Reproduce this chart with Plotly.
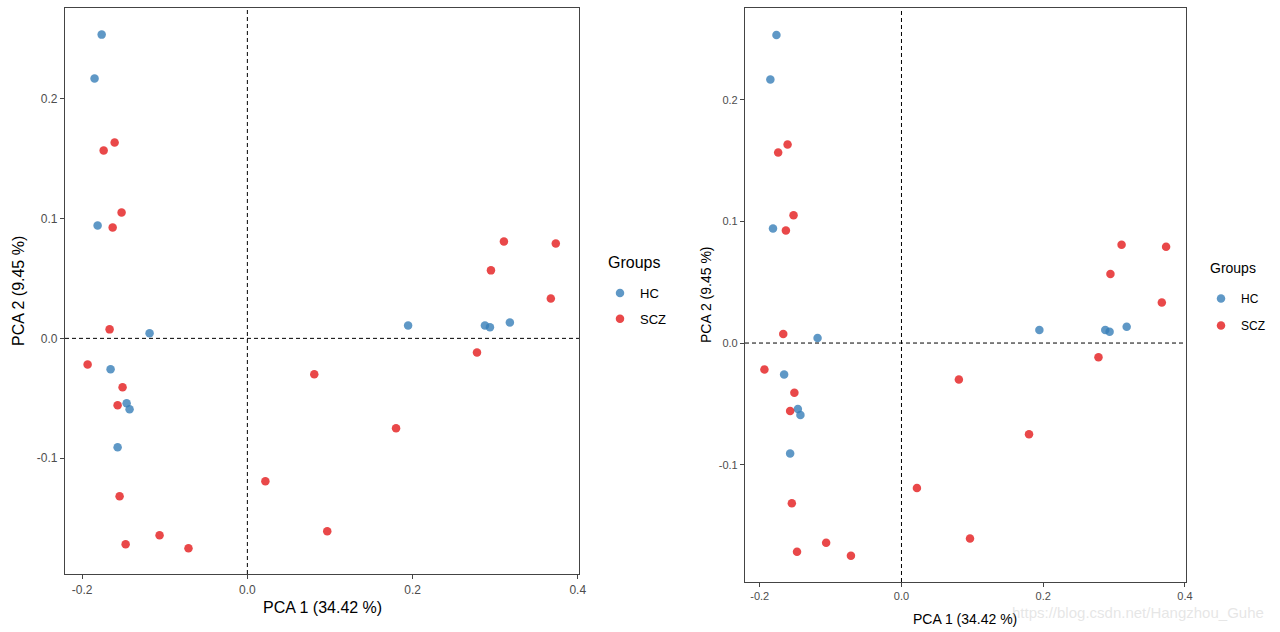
import plotly.graph_objects as go

# PCA scores
hc_x = [-0.1764, -0.1850, -0.1813, -0.1184, -0.1656, -0.1462, -0.1426, -0.1571,
        0.1946, 0.2876, 0.2937, 0.3178]
hc_y = [0.2533, 0.2167, 0.0942, 0.0042, -0.0258, -0.0542, -0.0592, -0.0908,
        0.0108, 0.0108, 0.0092, 0.0133]
scz_x = [-0.1740, -0.1607, -0.1523, -0.1631, -0.1668, -0.1934, -0.1511, -0.1571,
         -0.1547, -0.1474, -0.1063, -0.0713, 0.0218, 0.0810, 0.0967, 0.1800,
         0.2780, 0.2949, 0.3106, 0.3674, 0.3734]
scz_y = [0.1567, 0.1633, 0.1050, 0.0925, 0.0075, -0.0217, -0.0408, -0.0558,
         -0.1317, -0.1717, -0.1642, -0.1750, -0.1192, -0.0300, -0.1608, -0.0750,
         -0.0117, 0.0567, 0.0808, 0.0333, 0.0792]
groups = ["HC", "SCZ"]
x_ticks = [-0.2, 0.0, 0.2, 0.4]
x_ticklabels = ["-0.2", "0.0", "0.2", "0.4"]
y_ticks = [-0.1, 0.0, 0.1, 0.2]
y_ticklabels = ["-0.1", "0.0", "0.1", "0.2"]
x_title = "PCA 1 (34.42 %)"
y_title = "PCA 2 (9.45 %)"
legend_title = "Groups"
watermark = "https://blog.csdn.net/Hangzhou_Guhe"

colors = {"HC": "rgba(55,126,184,0.8)", "SCZ": "rgba(228,26,28,0.8)"}
data = {"HC": (hc_x, hc_y), "SCZ": (scz_x, scz_y)}
FONT = "Liberation Sans, Arial, sans-serif"

# body margin is removed by post_script, so the figure fills the window
W, H, OFF = 1280, 632, 0
def px(x):
    return (x - OFF) / W
def py(y):
    return 1 - (y - OFF) / H

fig = go.Figure()
for xa, ya, leg in [("x", "y", "legend"), ("x2", "y2", "legend2")]:
    for g in groups:
        xs, ys = data[g]
        fig.add_trace(go.Scatter(
            x=xs, y=ys, mode="markers", name=g, xaxis=xa, yaxis=ya, legend=leg,
            legendgroup=g + xa,
            marker=dict(size=8.5, color=colors[g], line=dict(width=0)),
        ))

xr = [-0.2208, 0.4015]
yr = [-0.1965, 0.2755]

def axis_style(tick_size):
    return dict(
        showgrid=False, zeroline=False, showline=True, mirror=True,
        linecolor="#444444", linewidth=1.2, ticks="outside", ticklen=4,
        tickcolor="#444444", tickwidth=1, automargin=False,
        tickfont=dict(family=FONT, size=tick_size, color="#4D4D4D"),
    )

fig.update_layout(
    width=W, height=H,
    margin=dict(l=0, r=0, t=0, b=0, autoexpand=False),
    paper_bgcolor="white", plot_bgcolor="white",
    font=dict(family=FONT),
    xaxis=dict(domain=[px(65), px(579)], range=xr, tickvals=x_ticks,
               ticktext=x_ticklabels, anchor="y", **axis_style(12)),
    yaxis=dict(domain=[py(574), py(8)], range=yr, tickvals=y_ticks,
               ticktext=y_ticklabels, anchor="x", **axis_style(12)),
    xaxis2=dict(domain=[px(745), px(1186)], range=xr, tickvals=x_ticks,
                ticktext=x_ticklabels, anchor="y2", **axis_style(11)),
    yaxis2=dict(domain=[py(582), py(8)], range=yr, tickvals=y_ticks,
                ticktext=y_ticklabels, anchor="x2", **axis_style(11)),
    legend=dict(x=px(600), y=py(278), xanchor="left", yanchor="top",
                font=dict(size=13, color="black"), bgcolor="rgba(0,0,0,0)",
                itemwidth=30, tracegroupgap=6),
    legend2=dict(x=px(1201), y=py(284), xanchor="left", yanchor="top",
                 font=dict(size=12, color="black"), bgcolor="rgba(0,0,0,0)",
                 itemwidth=30, tracegroupgap=8),
    showlegend=True,
)

# dashed reference lines at 0
for xa, ya in [("x", "y"), ("x2", "y2")]:
    fig.add_shape(type="line", xref=xa, yref=f"{ya} domain", x0=0, x1=0, y0=0, y1=1,
                  line=dict(color="black", width=1, dash="4px,3px"))
    fig.add_shape(type="line", xref=f"{xa} domain", yref=ya, x0=0, x1=1, y0=0, y1=0,
                  line=dict(color="black", width=1, dash="4px,3px"))

def label(text, x, y, size, angle=0, color="black", xanchor="center"):
    fig.add_annotation(text=text, x=px(x), y=py(y), xref="paper", yref="paper",
                       xanchor=xanchor, yanchor="middle", showarrow=False,
                       textangle=angle, font=dict(size=size, color=color))

# axis titles
label(x_title, 322, 607, 16)
label(y_title, 18, 291, 16, angle=-90)
label(x_title, 965, 619, 14)
label(y_title, 706, 295, 14, angle=-90)
# legend titles
label(legend_title, 606, 262, 16, xanchor="left")
label(legend_title, 1208, 268, 14, xanchor="left")
# faint watermark
label(watermark, 1010, 612, 15, color="rgba(205,205,205,0.5)", xanchor="left")

fig.write_html("out.html",
               config={"displayModeBar": False},
               post_script="document.body.style.margin='0';"
                           "document.body.style.overflow='hidden';")
